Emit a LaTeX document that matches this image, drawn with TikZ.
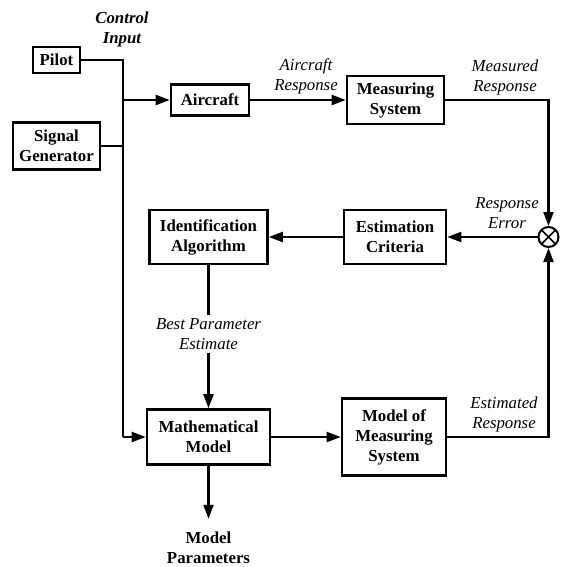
\documentclass[tikz,border=0pt]{standalone}
\usepackage{fontspec}
\setmainfont{Liberation Serif}
\usetikzlibrary{arrows.meta}

\tikzset{block/.style = {draw, line width=2.6pt, align=center,
                         font=\fontsize{16.8}{20}\selectfont\bfseries,
                         inner sep=2pt},
         sig/.style = {align=center, inner sep=3pt,
                       font=\fontsize{16.8}{20}\selectfont\itshape},
         line/.style = {line width=2.2pt},
         arrow/.style = {line, -{Triangle[length=14pt,width=10pt]}},
         summer/.style = {draw, circle, line width=2pt, minimum size=20pt, inner sep=0pt,
                          path picture={\draw[line width=1.6pt]
                              (path picture bounding box.north west) -- (path picture bounding box.south east)
                              (path picture bounding box.south west) -- (path picture bounding box.north east);}}
        }

\begin{document}
\begin{tikzpicture}[x=1pt, y=-1pt]
  \useasboundingbox[fill=white] (0,0) rectangle (561,567);
  % blocks
  \node[block, minimum width=47pt, minimum height=26pt] (pilot) at (56.5,60) {Pilot};
  \node[block, minimum width=87pt, minimum height=47pt] (siggen) at (56.5,146) {Signal\\Generator};
  \node[block, minimum width=78pt, minimum height=31pt] (aircraft) at (210,100) {Aircraft};
  \node[block, minimum width=97pt, minimum height=48pt] (meas) at (395.5,100) {Measuring\\System};
  \node[summer] (sum) at (548.5,237) {};
  \node[block, minimum width=102pt, minimum height=54pt] (crit) at (395,237) {Estimation\\Criteria};
  \node[block, minimum width=118pt, minimum height=54pt] (ident) at (208.5,237) {Identification\\Algorithm};
  \node[block, minimum width=123pt, minimum height=55pt] (math) at (208.5,437) {Mathematical\\Model};
  \node[block, minimum width=104pt, minimum height=77pt] (mmeas) at (394,437) {Model of\\Measuring\\System};
  % signal labels
  \node[sig, font=\fontsize{16.8}{20}\selectfont\bfseries\itshape] (ctrl) at (122,29) {Control\\Input};
  \node[sig] (acresp) at (306,76) {Aircraft\\Response};
  \node[sig] (measresp) at (505,77) {Measured\\Response};
  \node[sig] (resperr) at (507,213) {Response\\Error};
  \node[sig] (best) at (208.5,334) {Best Parameter\\Estimate};
  \node[sig] (estresp) at (504,414) {Estimated\\Response};
  \node[block, draw=none] (params) at (208.5,548) {Model\\Parameters};
  \coordinate (bus) at (123,0);
  \coordinate (rail) at (548.5,0);

  % connectors
  \draw[line] (pilot) -- (pilot -| bus) -- (bus |- math);
  \draw[line] (siggen) -- (siggen -| bus);
  \draw[arrow] (aircraft -| bus) -- (aircraft);
  \draw[arrow] (bus |- math) -- (math);
  \draw[arrow] (aircraft) -- (meas);
  \draw[arrow] (meas) -- (meas -| rail) -- (sum);
  \draw[arrow] (sum) -- (crit);
  \draw[arrow] (crit) -- (ident);
  \draw[line] (ident) -- (best);
  \draw[arrow] (best) -- (math);
  \draw[arrow] (math) -- (mmeas);
  \draw[arrow] (mmeas) -- (mmeas -| rail) -- (sum);
  \draw[arrow, shorten >=10pt] (math) -- (params);
\end{tikzpicture}
\end{document}
